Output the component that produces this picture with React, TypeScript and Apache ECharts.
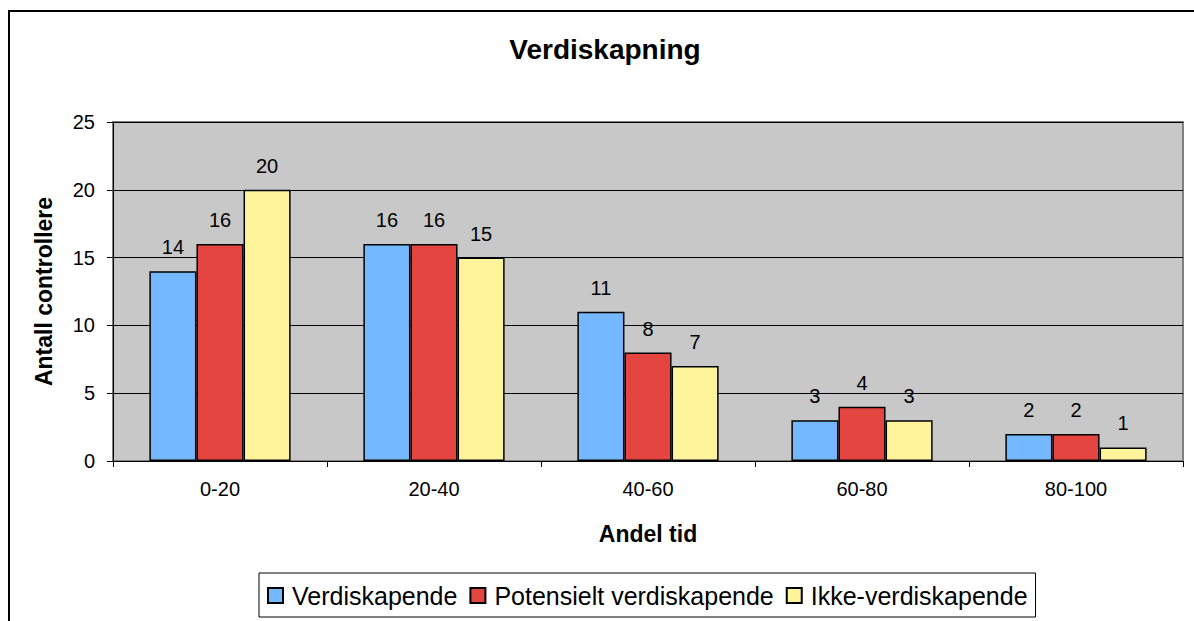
import React, { useEffect, useRef } from "react";
import * as echarts from "echarts";

const categories = ["0-20", "20-40", "40-60", "60-80", "80-100"];
const verdiskapende = [14, 16, 11, 3, 2];
const potensielt = [16, 16, 8, 4, 2];
const ikkeVerdiskapende = [20, 15, 7, 3, 1];
const seriesNames = ["Verdiskapende", "Potensielt verdiskapende", "Ikke-verdiskapende"];
const yTicks = [0, 5, 10, 15, 20, 25];

const FONT = "'Liberation Sans', Arial, sans-serif";

export default function App() {
  const ref = useRef<HTMLDivElement>(null);
  useEffect(() => {
    if (!ref.current) return;
    const chart = echarts.init(ref.current, undefined, { renderer: "svg" });
    const colors = ["#74B8FF", "#E54540", "#FFF39B"];
    const datasets = [verdiskapende, potensielt, ikkeVerdiskapende];
    chart.setOption({
      animation: false,
      backgroundColor: "#ffffff",
      textStyle: { fontFamily: FONT, color: "#000" },
      title: {
        text: "Verdiskapning",
        left: 600,
        top: 30,
        textAlign: "center",
        textStyle: { fontFamily: FONT, fontSize: 28, fontWeight: "bold", color: "#000" },
      },
      graphic: [
        {
          type: "rect",
          shape: { x: 9, y: 11, width: 1200, height: 700 },
          style: { fill: "none", stroke: "#000", lineWidth: 2 },
          silent: true,
          z: 100,
        },
      ],
      grid: {
        left: 113,
        top: 122,
        width: 1070,
        height: 339,
        show: true,
        backgroundColor: "#C8C8C8",
        borderColor: "#808080",
        borderWidth: 2,
      },
      legend: {
        data: seriesNames,
        left: 259,
        top: 573,
        width: 900,
        orient: "horizontal",
        backgroundColor: "#fff",
        borderColor: "#000",
        borderWidth: 1,
        padding: [10, 8, 9, 8],
        itemGap: 12,
        itemWidth: 15,
        itemHeight: 15,
        icon: "rect",
        textStyle: { fontFamily: FONT, fontSize: 25, color: "#000", padding: [0, 0, 0, 4] },
      },
      xAxis: {
        type: "category",
        data: categories,
        name: "Andel tid",
        nameLocation: "middle",
        nameGap: 61,
        nameTextStyle: { fontFamily: FONT, fontSize: 23, fontWeight: "bold", color: "#000" },
        axisLine: { show: true, lineStyle: { color: "#000", width: 1 } },
        axisTick: { show: true, length: 6, lineStyle: { color: "#000" }, alignWithLabel: false },
        axisLabel: { fontFamily: FONT, fontSize: 20, color: "#000", margin: 18 },
      },
      yAxis: {
        type: "value",
        min: 0,
        max: 25,
        interval: 5,
        name: "Antall controllere",
        nameLocation: "middle",
        nameGap: 58,
        nameTextStyle: { fontFamily: FONT, fontSize: 23, fontWeight: "bold", color: "#000" },
        axisLine: { show: true, lineStyle: { color: "#000", width: 1 } },
        axisTick: { show: true, length: 6, lineStyle: { color: "#000" } },
        axisLabel: {
          fontFamily: FONT,
          fontSize: 20,
          color: "#000",
          margin: 18,
          formatter: (v: number) => (yTicks.includes(v) ? String(v) : ""),
        },
        splitLine: { show: true, lineStyle: { color: "#000", width: 1 } },
      },
      series: datasets.map((d, i) => ({
        name: seriesNames[i],
        type: "bar",
        data: d,
        barGap: "0%",
        barCategoryGap: "34%",
        itemStyle: { color: colors[i], borderColor: "#000", borderWidth: 1.5 },
        label: {
          show: true,
          position: "top",
          distance: 14,
          fontFamily: FONT,
          fontSize: 20,
          color: "#000",
        },
      })),
    });
    return () => chart.dispose();
  }, []);
  return (
    <div
      ref={ref}
      style={{ position: "fixed", left: 0, top: 0, width: 1194, height: 621 }}
    />
  );
}
